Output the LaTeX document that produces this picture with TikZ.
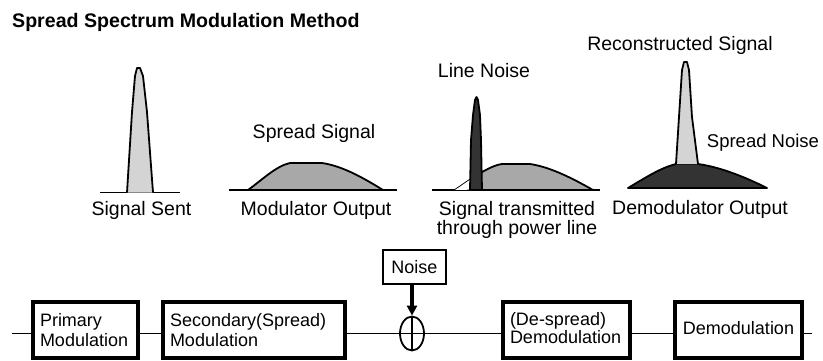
\documentclass[tikz,border=0pt]{standalone}
\usepackage{fontspec}
\setmainfont{Liberation Sans}
\usetikzlibrary{shapes.geometric,arrows.meta}
\definecolor{lightg}{HTML}{D4D4D4}
\definecolor{midg}{HTML}{A8A8A8}
\definecolor{darkg}{HTML}{333333}
\newcommand{\lblfont}{\fontsize{19.5}{20}\selectfont}
\newcommand{\blkfont}{\fontsize{18}{20}\selectfont}
\tikzset{
  lbl/.style={inner sep=0pt, anchor=base, font=\lblfont},
  blk/.style={draw, line width=3.5pt, inner xsep=7pt, inner ysep=0pt, minimum height=56pt,
              align=left, font=\blkfont},
  wire/.style={line width=1.8pt},
  curve/.style={line width=1.8pt, line join=round},
}
\begin{document}
\begin{tikzpicture}[x=1pt,y=-1pt]
\useasboundingbox (0,0) rectangle (823,361);
% title
\node[inner sep=0pt, anchor=base west, font=\bfseries\fontsize{19.6}{20}\selectfont] (title) at (12,28) {Spread Spectrum Modulation Method};

% ---- Signal sent
\draw[wire] (100,192.5) -- (180,192.5);
\draw[curve, fill=lightg] (127,192.5) -- (132,112) -- (135,76) -- (137,68) -- (140,68) -- (143,76) -- (147,112) -- (153,192.5);
\node[lbl] (ssent) at (141.5,215) {Signal Sent};

% ---- Modulator output
\draw[wire] (229,190) -- (397,190);
\draw[curve, fill=midg] (248,190) .. controls (262,180) and (276,166) .. (290,163) -- (322,163) .. controls (342,166) and (362,177) .. (383,190) -- cycle;
\node[lbl] (sprs) at (314,139) {Spread Signal};
\node[lbl] (modo) at (316,215) {Modulator Output};

% ---- Signal transmitted
\draw[wire] (432,190) -- (600,190);
\draw[curve, fill=midg] (455,190) .. controls (470,180) and (488,166) .. (502,164) -- (530,164) .. controls (550,167) and (572,178) .. (593,190) -- cycle;
\begin{scope}
\clip (450,150) rectangle (471,189);
\fill[white] (455,190) .. controls (470,180) and (488,166) .. (502,164) -- (502,189) -- cycle;
\end{scope}
\draw[curve, fill=darkg] (470,190) -- (471,140) -- (473,115) -- (475,100) -- (476.5,97) -- (478,100) -- (480,115) -- (481,140) -- (482,190) -- cycle;
\node[lbl] (lnoise) at (484,78) {Line Noise};
\node[lbl] (stx1) at (517,215) {Signal transmitted};
\node[lbl] (stx2) at (517,234) {through power line};

% ---- Demodulator output
\draw[curve, fill=darkg] (628,188) .. controls (645,178) and (660,168) .. (676,164) -- (698,164) .. controls (720,167) and (745,177) .. (767,188) -- cycle;
\draw[curve, fill=lightg] (676,164) -- (679,117) -- (682,70) -- (684,62) -- (687,62) -- (689,70) -- (692,117) -- (698,164);
\node[lbl] (recs) at (680,51) {Reconstructed Signal};
\node[lbl, font=\fontsize{18.5}{20}\selectfont] (sprn) at (763,147) {Spread Noise};
\node[lbl] (demo) at (700,214) {Demodulator Output};

% ---- block diagram
\coordinate (L) at (12,333.5);
\coordinate (R) at (812,333.5);
\node[blk, text width=91pt] (b1) at (85.5,330) {Primary\\Modulation};
\node[blk, text width=168pt] (b2) at (254,330) {Secondary(Spread)\\Modulation};
\node[blk, text width=113pt] (b3) at (566.5,330) {\raisebox{4pt}{\begin{tabular}{@{}l@{}}(De-spread)\\[-2pt]Demodulation\end{tabular}}};
\node[blk, minimum width=127pt, inner xsep=0pt, align=center] (b4) at (738.5,330) {\raisebox{4pt}{Demodulation}};
\node[draw, line width=1.8pt, minimum width=63pt, minimum height=34pt, inner sep=0pt,
      font=\blkfont] (noise) at (414.5,267) {Noise};
\node[ellipse, draw, line width=1.8pt, minimum width=24pt, minimum height=34pt, inner sep=0pt] (sum) at (412,333.5) {};

\draw[wire] (L) -- (b1.west |- L);
\draw[wire] (b1.east |- L) -- (b2.west |- L);
\draw[wire] (b2.east |- L) -- (sum.west);
\draw[wire] (sum.east) -- (b3.west |- L);
\draw[wire] (b3.east |- L) -- (b4.west |- L);
\draw[wire] (b4.east |- L) -- (R);
\draw[line width=1.5pt] (sum.north) -- (sum.south) (sum.west) -- (sum.east);
\draw[line width=3.5pt, -{Triangle[length=10pt,width=10pt]}] (sum.north |- noise.south) -- (sum.north);
\end{tikzpicture}
\end{document}
